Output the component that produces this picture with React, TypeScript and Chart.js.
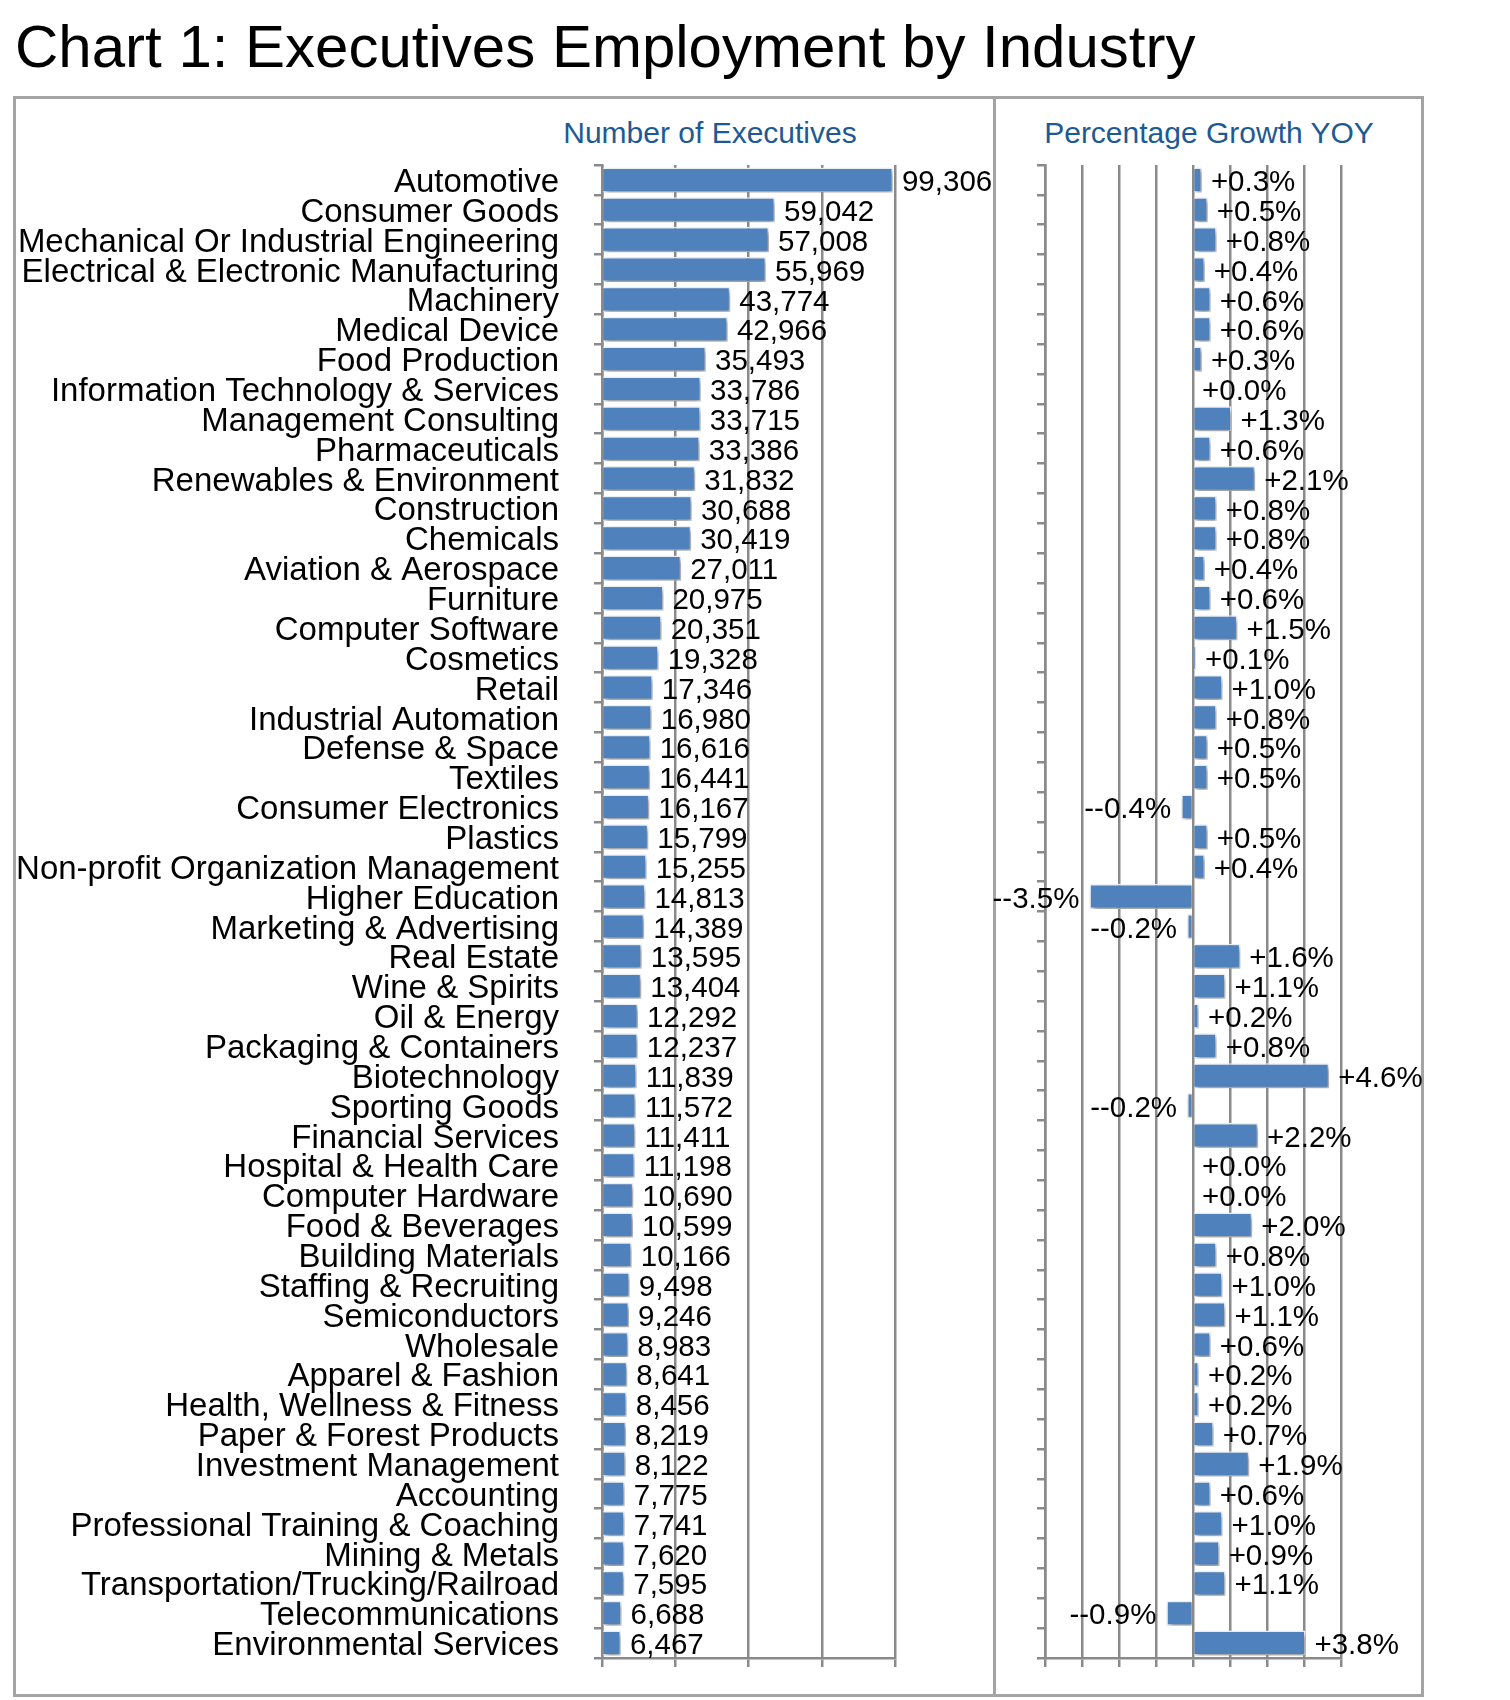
import React, { useEffect, useRef } from "react";
import { Chart, registerables } from "chart.js";

Chart.register(...registerables);

const categories = [
  "Automotive",
  "Consumer Goods",
  "Mechanical Or Industrial Engineering",
  "Electrical & Electronic Manufacturing",
  "Machinery",
  "Medical Device",
  "Food Production",
  "Information Technology & Services",
  "Management Consulting",
  "Pharmaceuticals",
  "Renewables & Environment",
  "Construction",
  "Chemicals",
  "Aviation & Aerospace",
  "Furniture",
  "Computer Software",
  "Cosmetics",
  "Retail",
  "Industrial Automation",
  "Defense & Space",
  "Textiles",
  "Consumer Electronics",
  "Plastics",
  "Non-profit Organization Management",
  "Higher Education",
  "Marketing & Advertising",
  "Real Estate",
  "Wine & Spirits",
  "Oil & Energy",
  "Packaging & Containers",
  "Biotechnology",
  "Sporting Goods",
  "Financial Services",
  "Hospital & Health Care",
  "Computer Hardware",
  "Food & Beverages",
  "Building Materials",
  "Staffing & Recruiting",
  "Semiconductors",
  "Wholesale",
  "Apparel & Fashion",
  "Health, Wellness & Fitness",
  "Paper & Forest Products",
  "Investment Management",
  "Accounting",
  "Professional Training & Coaching",
  "Mining & Metals",
  "Transportation/Trucking/Railroad",
  "Telecommunications",
  "Environmental Services",
];

const executives = [
  99306, 59042, 57008, 55969, 43774, 42966, 35493, 33786, 33715, 33386,
  31832, 30688, 30419, 27011, 20975, 20351, 19328, 17346, 16980, 16616,
  16441, 16167, 15799, 15255, 14813, 14389, 13595, 13404, 12292, 12237,
  11839, 11572, 11411, 11198, 10690, 10599, 10166, 9498, 9246, 8983,
  8641, 8456, 8219, 8122, 7775, 7741, 7620, 7595, 6688, 6467,
];

const growth = [
  0.3, 0.5, 0.8, 0.4, 0.6, 0.6, 0.3, 0.0, 1.3, 0.6,
  2.1, 0.8, 0.8, 0.4, 0.6, 1.5, 0.1, 1.0, 0.8, 0.5,
  0.5, -0.4, 0.5, 0.4, -3.5, -0.2, 1.6, 1.1, 0.2, 0.8,
  4.6, -0.2, 2.2, 0.0, 0.0, 2.0, 0.8, 1.0, 1.1, 0.6,
  0.2, 0.2, 0.7, 1.9, 0.6, 1.0, 0.9, 1.1, -0.9, 3.8,
];

const execAxis = { min: 0, max: 100000, step: 25000 };
const growthAxis = { min: -5, max: 5, step: 1.25 };

const TITLE = "Chart 1: Executives Employment by Industry";
const LEFT_TITLE = "Number of Executives";
const RIGHT_TITLE = "Percentage Growth YOY";

const FONT = '"Liberation Sans", Arial, Helvetica, sans-serif';
const BAR = "#4f81bd";
const BAR_BORDER = "#eef3f9";
const GRID = "#8a8a8a";
const FRAME = "#a4a4a4";
const SUB_COLOR = "#1d5a94";

function labelPlugin(fmt: (v: number) => string) {
  return {
    id: "barLabels",
    beforeDatasetsDraw(chart: any) {
      const ctx = chart.ctx;
      ctx.save();
      ctx.shadowColor = "rgba(0,0,0,0.4)";
      ctx.shadowBlur = 5;
      ctx.shadowOffsetX = 2;
      ctx.shadowOffsetY = 3;
    },
    afterDatasetsDraw(chart: any) {
      const ctx = chart.ctx;
      ctx.restore();
      ctx.save();
      ctx.font = `29.5px ${FONT}`;
      ctx.fillStyle = "#000";
      ctx.textBaseline = "middle";
      const meta = chart.getDatasetMeta(0);
      const data = chart.data.datasets[0].data as number[];
      meta.data.forEach((bar: any, i: number) => {
        const v = data[i];
        const p = bar.getProps(["x", "y"], true);
        const txt = fmt(v);
        if (v < 0) {
          ctx.textAlign = "right";
          ctx.fillText(txt, p.x - 10, p.y + 3);
        } else {
          ctx.textAlign = "left";
          ctx.fillText(txt, p.x + 9, p.y + 3);
        }
      });
      ctx.restore();
    },
  };
}

const fmtCount = (v: number) => v.toLocaleString("en-US");
const fmtPct = (v: number) =>
  v < 0 ? "-" + v.toFixed(1) + "%" : "+" + v.toFixed(1) + "%";

const CANVAS_TOP = 150;
const CANVAS_H = 1528;

export default function App() {
  const leftRef = useRef<HTMLCanvasElement>(null);
  const rightRef = useRef<HTMLCanvasElement>(null);

  useEffect(() => {
    const dataset = (values: number[]) => ({
      data: values,
      backgroundColor: BAR,
      borderColor: BAR_BORDER,
      borderWidth: 1.5,
      barPercentage: 0.84,
      categoryPercentage: 1,
    });

    const xFit = (s: any) => {
      s.height = 20;
      s.paddingLeft = 0;
      s.paddingRight = 0;
    };

    const left = new Chart(leftRef.current as HTMLCanvasElement, {
      type: "bar",
      data: { labels: categories, datasets: [dataset(executives)] },
      options: {
        indexAxis: "y",
        animation: false,
        responsive: false,
        maintainAspectRatio: false,
        layout: { padding: { top: 15, right: 98, bottom: 0, left: 0 } },
        plugins: {
          legend: { display: false },
          tooltip: { enabled: false },
        },
        scales: {
          x: {
            type: "linear",
            min: execAxis.min,
            max: execAxis.max,
            ticks: { display: false, stepSize: execAxis.step },
            grid: { color: GRID, lineWidth: 2.5, tickLength: 9 },
            border: { color: GRID, width: 2.5 },
            afterFit: xFit,
          },
          y: {
            type: "category",
            ticks: {
              autoSkip: false,
              color: "#000",
              font: { family: FONT, size: 33 },
              padding: 35,
              labelOffset: 3,
            },
            grid: {
              display: true,
              drawOnChartArea: false,
              color: GRID,
              lineWidth: 2.5,
              tickLength: 8,
              offset: true,
            },
            border: { color: GRID, width: 2.5 },
            afterFit(s: any) {
              s.width = 586;
              s.paddingTop = 0;
              s.paddingBottom = 0;
            },
          },
        },
      } as any,
      plugins: [labelPlugin(fmtCount)],
    });

    const right = new Chart(rightRef.current as HTMLCanvasElement, {
      type: "bar",
      data: { labels: categories, datasets: [dataset(growth)] },
      options: {
        indexAxis: "y",
        animation: false,
        responsive: false,
        maintainAspectRatio: false,
        layout: { padding: { top: 15, right: 99, bottom: 0, left: 0 } },
        plugins: {
          legend: { display: false },
          tooltip: { enabled: false },
        },
        scales: {
          x: {
            type: "linear",
            min: growthAxis.min,
            max: growthAxis.max,
            ticks: { display: false, stepSize: growthAxis.step },
            grid: { color: GRID, lineWidth: 2.5, tickLength: 9 },
            border: { color: GRID, width: 2.5 },
            afterFit: xFit,
          },
          y: {
            type: "category",
            ticks: { display: false, autoSkip: false },
            grid: {
              display: true,
              drawOnChartArea: false,
              color: GRID,
              lineWidth: 2.5,
              tickLength: 8,
              offset: true,
            },
            border: { color: GRID, width: 2.5 },
            afterFit(s: any) {
              s.width = 85;
              s.paddingTop = 0;
              s.paddingBottom = 0;
            },
          },
        },
      } as any,
      plugins: [labelPlugin(fmtPct)],
    });

    return () => {
      left.destroy();
      right.destroy();
    };
  }, []);

  const abs = (o: React.CSSProperties): React.CSSProperties => ({
    position: "absolute",
    ...o,
  });

  return (
    <div style={abs({ left: 0, top: 0, width: 1510, height: 1700, background: "#fff", overflow: "hidden", fontFamily: FONT })}>
      <div style={abs({ left: 15, top: 17, fontSize: 60, lineHeight: "60px", color: "#000", whiteSpace: "nowrap" })}>
        {TITLE}
      </div>
      <div style={abs({ left: 13, top: 96, width: 1411, height: 1601, border: `3px solid ${FRAME}`, boxSizing: "border-box" })} />
      <div style={abs({ left: 993, top: 96, width: 3, height: 1601, background: FRAME })} />
      <div style={abs({ left: 510, top: 118, width: 400, textAlign: "center", fontSize: 30, lineHeight: "30px", color: SUB_COLOR, whiteSpace: "nowrap" })}>
        {LEFT_TITLE}
      </div>
      <div style={abs({ left: 1009, top: 118, width: 400, textAlign: "center", fontSize: 30, lineHeight: "30px", color: SUB_COLOR, whiteSpace: "nowrap" })}>
        {RIGHT_TITLE}
      </div>
      <canvas
        ref={leftRef}
        width={977}
        height={CANVAS_H}
        style={abs({ left: 16, top: CANVAS_TOP, width: 977, height: CANVAS_H })}
      />
      <canvas
        ref={rightRef}
        width={480}
        height={CANVAS_H}
        style={abs({ left: 960, top: CANVAS_TOP, width: 480, height: CANVAS_H })}
      />
    </div>
  );
}
